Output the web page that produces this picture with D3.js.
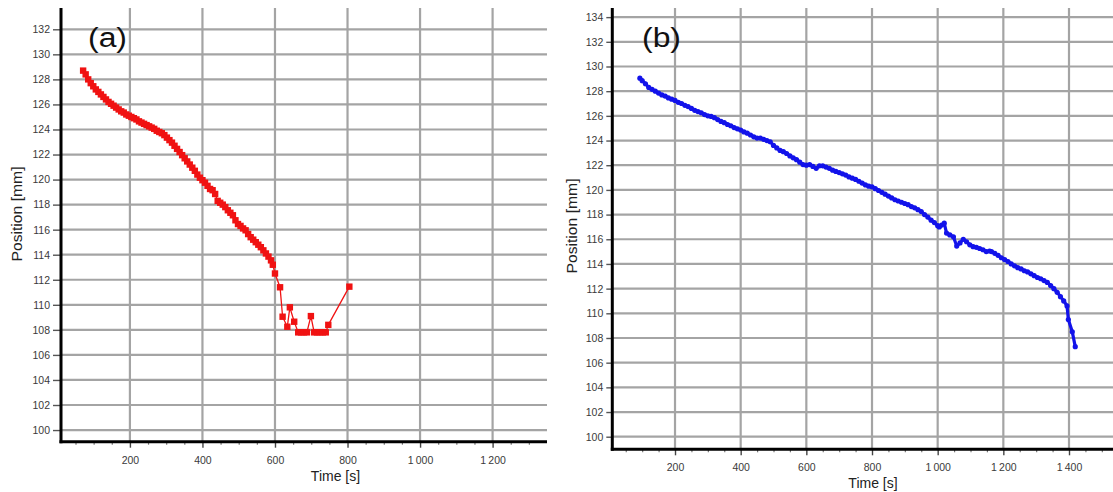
<!DOCTYPE html>
<html>
<head>
<meta charset="utf-8">
<script src="https://cdn.jsdelivr.net/npm/d3@7"></script>
<style>
  html, body { margin: 0; padding: 0; background: #fff; }
  svg { display: block; }
  text { font-family: "Liberation Sans", Arial, sans-serif; }
</style>
</head>
<body>
<svg id="chart" width="1113" height="492"></svg>
<script>
// ---------- Data ----------
// Panel (a): red series
const timeA = [71,78,85,92,99,106,113,120,127,134,141,148,155,162,169,176,183,190,197,204,211,218,225,232,239,246,253,260,267,274,281,288,295,302,309,316,323,330,337,344,351,358,365,372,379,386,393,400,407,414,421,428,435,442,449,456,463,470,477,484,491,498,505,512,519,526,533,540,547,554,561,568,575,582,589,594,600,614,621,634,641,653,664,672,680,688,699,708,716,724,732,740,747,805];
const posA  = [128.7,128.4,128.0,127.7,127.45,127.2,127.0,126.8,126.6,126.4,126.2,126.05,125.9,125.75,125.6,125.45,125.35,125.2,125.1,125.0,124.9,124.8,124.65,124.55,124.45,124.35,124.25,124.15,124.05,123.9,123.8,123.7,123.55,123.35,123.15,122.95,122.7,122.45,122.2,121.95,121.7,121.45,121.2,120.95,120.7,120.4,120.15,119.95,119.75,119.5,119.25,119.15,118.85,118.3,118.15,118.0,117.8,117.55,117.35,117.15,116.75,116.45,116.3,116.1,115.95,115.65,115.4,115.2,115.0,114.8,114.6,114.35,114.1,113.85,113.55,113.2,112.5,111.4,109.05,108.25,109.8,108.65,107.8,107.8,107.8,107.8,109.1,107.8,107.8,107.8,107.8,107.8,108.4,111.45];

// Panel (b): blue series
const timeB = [93,100,110,120,130,140,150,160,170,180,190,200,210,220,230,240,250,260,270,280,290,300,310,320,330,340,350,360,370,380,390,400,410,420,430,440,450,460,470,480,490,500,510,520,530,540,550,560,570,580,590,600,610,620,630,640,650,660,670,680,690,700,710,720,730,740,750,760,770,780,790,800,810,820,830,840,850,860,870,880,890,900,910,920,930,940,950,960,970,980,990,1000,1005,1012,1020,1027,1037,1048,1058,1068,1078,1088,1098,1108,1118,1128,1138,1148,1158,1164,1174,1184,1194,1204,1214,1224,1234,1244,1254,1264,1274,1284,1294,1304,1314,1324,1334,1344,1354,1364,1374,1384,1394,1398,1410,1419];
const posB  = [129.05,128.85,128.6,128.3,128.15,128.0,127.85,127.7,127.6,127.45,127.35,127.25,127.1,127.0,126.85,126.75,126.6,126.45,126.35,126.25,126.1,126.0,125.95,125.85,125.7,125.55,125.45,125.3,125.2,125.05,124.95,124.85,124.7,124.6,124.45,124.3,124.2,124.2,124.1,124.0,123.9,123.6,123.4,123.2,123.1,122.95,122.75,122.6,122.45,122.25,122.05,122.0,122.05,121.9,121.75,121.95,121.95,121.85,121.75,121.6,121.5,121.4,121.3,121.2,121.05,120.95,120.85,120.7,120.55,120.4,120.3,120.25,120.1,119.95,119.8,119.65,119.5,119.35,119.2,119.1,119.0,118.9,118.8,118.65,118.55,118.4,118.25,118.0,117.8,117.55,117.35,117.1,117.0,117.15,117.3,116.5,116.35,116.2,115.45,115.7,116.0,115.8,115.55,115.4,115.35,115.25,115.15,115.0,115.05,115.0,114.85,114.7,114.5,114.35,114.2,114.0,113.85,113.7,113.6,113.45,113.35,113.2,113.05,112.9,112.8,112.65,112.5,112.25,112.0,111.7,111.35,111.0,110.6,109.5,108.5,107.3];

// Tick values
const yTicksA = [100,102,104,106,108,110,112,114,116,118,120,122,124,126,128,130,132];
const yTicksB = [100,102,104,106,108,110,112,114,116,118,120,122,124,126,128,130,132,134];
const xTicksA = [200,400,600,800,1000,1200];
const xTicksB = [200,400,600,800,1000,1200,1400];
const xMinorA = [50,100,150,250,300,350,450,500,550,650,700,750,850,900,950,1050,1100,1150,1250,1300];
const xMinorB = [50,100,150,250,300,350,450,500,550,650,700,750,850,900,950,1050,1100,1150,1250,1300,1350,1450,1500];
const panelLabels = ["(a)", "(b)"];
const xTitle = "Time [s]";
const yTitle = "Position [mm]";

// ---------- Drawing ----------
const svg = d3.select("#chart");
const fmt = v => v >= 1000 ? String(v).replace(/(\d)(\d{3})$/, "$1\u2009$2") : String(v);

function panel(cfg) {
  const g = svg.append("g");
  const x = d3.scaleLinear().domain(cfg.xDom).range(cfg.xRange);
  const y = d3.scaleLinear().domain(cfg.yDom).range(cfg.yRange);
  const [x0, x1] = cfg.xRange;
  const [yb, yt] = cfg.yRange;

  // grid
  g.append("g").selectAll("line.h").data(cfg.yTicks).join("line")
    .attr("x1", x0).attr("x2", x1)
    .attr("y1", d => y(d)).attr("y2", d => y(d))
    .attr("stroke", "#a4a4a4").attr("stroke-width", 2.2);
  g.append("g").selectAll("line.v").data(cfg.xTicks).join("line")
    .attr("x1", d => x(d)).attr("x2", d => x(d))
    .attr("y1", yt).attr("y2", yb)
    .attr("stroke", "#a4a4a4").attr("stroke-width", 2.2);

  // y axis
  const ya = g.append("g").attr("transform", `translate(${x0},0)`)
    .call(d3.axisLeft(y).tickValues(cfg.yTicks).tickSize(cfg.yTickSize).tickPadding(3).tickFormat(fmt));
  ya.select(".domain").remove();
  ya.selectAll(".tick line").attr("stroke", "#555").attr("stroke-width", 1.4);
  ya.selectAll(".tick text").attr("fill", "#3a3a3a").style("font-size", "10.5px")
    .style("font-family", "'Liberation Sans', Arial, sans-serif");

  // x axis
  const xa = g.append("g").attr("transform", `translate(0,${yb})`)
    .call(d3.axisBottom(x).tickValues(cfg.xTicks).tickSize(6).tickPadding(cfg.xPad).tickFormat(fmt));
  xa.select(".domain").remove();
  xa.selectAll(".tick line").attr("stroke", "#444").attr("stroke-width", 1.4);
  xa.selectAll(".tick text").attr("fill", "#3a3a3a").style("font-size", "10.5px")
    .style("font-family", "'Liberation Sans', Arial, sans-serif");
  const xm = g.append("g").attr("transform", `translate(0,${yb})`)
    .call(d3.axisBottom(x).tickValues(cfg.xMinor).tickSize(3).tickFormat(""));
  xm.select(".domain").remove();
  xm.selectAll(".tick line").attr("stroke", "#777").attr("stroke-width", 1.2);

  // axis lines
  g.append("line").attr("x1", x0).attr("x2", x0).attr("y1", yt).attr("y2", yb + 1.5)
    .attr("stroke", "#000").attr("stroke-width", 3);
  g.append("line").attr("x1", x0 - 1.5).attr("x2", x1).attr("y1", yb).attr("y2", yb)
    .attr("stroke", "#000").attr("stroke-width", 3);

  // titles
  g.append("text").attr("x", cfg.xTitlePos[0]).attr("y", cfg.xTitlePos[1])
    .attr("text-anchor", "middle").attr("fill", "#222").style("font-size", "14px")
    .text(xTitle);
  g.append("text")
    .attr("transform", `translate(${cfg.yTitlePos[0]},${cfg.yTitlePos[1]}) rotate(-90)`)
    .attr("text-anchor", "middle").attr("dy", "0.35em").attr("fill", "#222")
    .style("font-size", "14px")
    .attr("textLength", 95).attr("lengthAdjust", "spacingAndGlyphs")
    .text(yTitle);
  g.append("text").attr("x", cfg.labelPos[0]).attr("y", cfg.labelPos[1])
    .attr("fill", "#111").style("font-size", "27px")
    .attr("textLength", 39).attr("lengthAdjust", "spacingAndGlyphs")
    .text(cfg.label);

  // data
  const pts = cfg.t.map((t, i) => [t, cfg.v[i]]);
  const line = d3.line().x(d => x(d[0])).y(d => y(d[1]));
  g.append("path").datum(pts).attr("d", line)
    .attr("fill", "none").attr("stroke", cfg.color).attr("stroke-width", cfg.lineW)
    .attr("stroke-linejoin", "round");
  if (cfg.marker === "square") {
    g.append("g").selectAll("rect").data(pts).join("rect")
      .attr("x", d => x(d[0]) - 3.2).attr("y", d => y(d[1]) - 3.2)
      .attr("width", 6.4).attr("height", 6.4).attr("fill", cfg.color);
  } else {
    g.append("g").selectAll("circle").data(pts).join("circle")
      .attr("cx", d => x(d[0])).attr("cy", d => y(d[1])).attr("r", 2.6)
      .attr("fill", cfg.color);
  }
}

panel({
  xDom: [10, 1350], xRange: [61, 547],
  yDom: [99.07, 133.7], yRange: [441.7, 8],
  yTicks: yTicksA, xTicks: xTicksA, xMinor: xMinorA,
  yTickSize: 8, xPad: 9,
  xTitlePos: [335.5, 481], yTitlePos: [17, 214], labelPos: [88, 47],
  label: panelLabels[0], t: timeA, v: posA,
  color: "#f01212", lineW: 1.3, marker: "square"
});

panel({
  xDom: [9, 1534], xRange: [612.3, 1113],
  yDom: [98.98, 134.74], yRange: [449.3, 8],
  yTicks: yTicksB, xTicks: xTicksB, xMinor: xMinorB,
  yTickSize: 6, xPad: 8,
  xTitlePos: [873, 487.5], yTitlePos: [572, 226], labelPos: [642, 46.5],
  label: panelLabels[1], t: timeB, v: posB,
  color: "#1212ea", lineW: 3.2, marker: "circle"
});
</script>
</body>
</html>
